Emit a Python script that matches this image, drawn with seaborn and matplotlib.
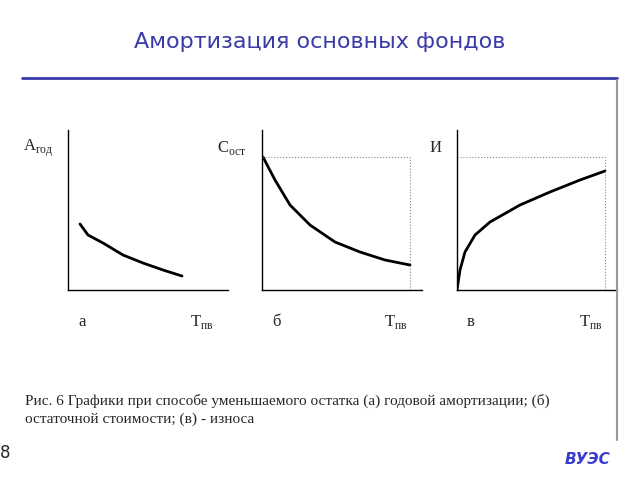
import matplotlib
matplotlib.use("Agg")
import matplotlib.pyplot as plt
import seaborn as sns

# curve points in axis units (origin at the axis corner, 160 units across)
a_x = [12, 20, 35, 55, 75, 95, 114]
a_y = [66, 55, 47, 35, 27, 20, 14]
b_x = [1, 13, 28, 48, 73, 98, 123, 148]
b_y = [133, 110, 85, 65, 48, 38, 30, 25]
c_x = [0, 3, 8, 18, 33, 63, 93, 123, 148]
c_y = [0, 20, 38, 55, 68, 85, 98, 110, 119]
limit_x = 148
limit_y = 133

y_labels = ["А$_{\\mathregular{год}}$", "С$_{\\mathregular{ост}}$", "И"]
panel_letters = ["а", "б", "в"]
caption = ("Рис. 6 Графики при способе уменьшаемого остатка (а) годовой амортизации; (б)\n"
           "остаточной стоимости; (в) - износа")

sns.set_style("white")
plt.rcParams["font.family"] = ["Liberation Serif", "DejaVu Serif"]

W, H = 640, 480
fig = plt.figure(figsize=(6.4, 4.8), dpi=100)

blue = "#3a3aa8"
fig.text(320 / W, 1 - 42 / H, "Амортизация основных фондов", ha="center", va="center",
         fontsize=16, color=blue, family=["DejaVu Sans"])
fig.add_artist(plt.Line2D([22 / W, 617 / W], [1 - 78 / H, 1 - 78 / H], color=blue, lw=2))
fig.add_artist(plt.Line2D([617 / W, 617 / W], [1 - 80 / H, 1 - 440 / H], color="#999999", lw=1.5))

origins = [68, 262, 457]
series = [(a_x, a_y), (b_x, b_y), (c_x, c_y)]
for i, (ox, (xs, ys)) in enumerate(zip(origins, series)):
    ax = fig.add_axes([ox / W, 1 - 290 / H, 160 / W, 160 / H])
    ax.set_xlim(0, 160)
    ax.set_ylim(0, 160)
    for s in ["top", "right"]:
        ax.spines[s].set_visible(False)
    for s in ["left", "bottom"]:
        ax.spines[s].set_color("black")
        ax.spines[s].set_linewidth(1)
    ax.set_xticks([])
    ax.set_yticks([])
    sns.lineplot(x=xs, y=ys, ax=ax, color="black", lw=2)
    if i > 0:
        ax.plot([0, limit_x], [limit_y, limit_y], color="#888888", lw=0.8, ls=":")
        ax.plot([limit_x, limit_x], [0, limit_y], color="#888888", lw=0.8, ls=":")
    fig.text((ox - 45 + (0 if i < 2 else 18)) / W, 1 - 148 / H, y_labels[i], fontsize=12, va="center")
    fig.text((ox + 10) / W, 1 - 322 / H, panel_letters[i], fontsize=12, va="center")
    fig.text((ox + 122) / W, 1 - 322 / H, "Т$_{\\mathregular{пв}}$", fontsize=12, va="center")

fig.text(25 / W, 1 - 410 / H, caption, fontsize=11, va="center", linespacing=1.4)
fig.text(0, 1 - 453 / H, "8", fontsize=12, va="center", family=["DejaVu Sans"])
fig.text(565 / W, 1 - 460 / H, "ВУЭС", fontsize=11, color="#3a3ad0", style="italic",
         weight="bold", va="center", family=["DejaVu Sans"])

fig.savefig("out.png", dpi=100)
